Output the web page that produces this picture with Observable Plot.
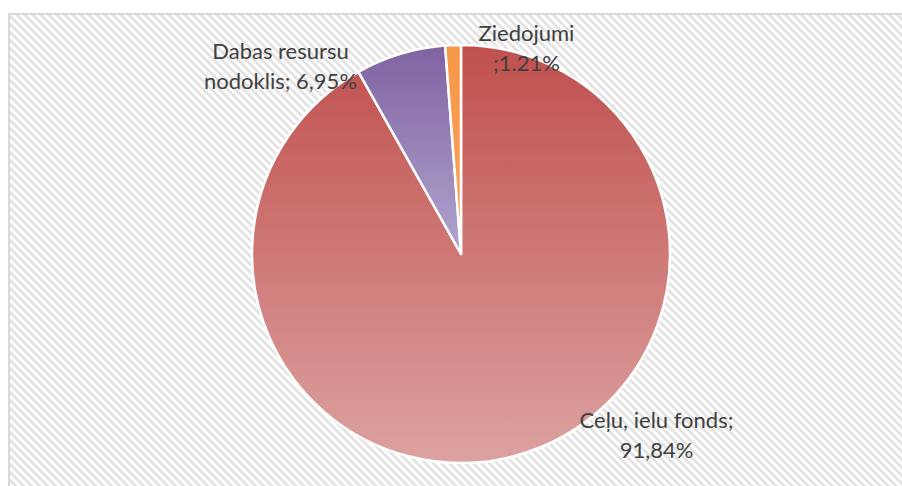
<!DOCTYPE html>
<html><head><meta charset="utf-8">
<script src="https://cdn.jsdelivr.net/npm/d3@7"></script>
<script src="https://cdn.jsdelivr.net/npm/@observablehq/plot@0.6"></script>
<style>body{margin:0;background:#fff;} #chart svg{display:block;}</style>
</head><body><div id="chart"></div>
<script>
// ---- data ----
const categories = ["Ceļu, ielu fonds", "Dabas resursu nodoklis", "Ziedojumi"];
const shares = [91.84, 6.95, 1.21];
const labelTexts = ["Ceļu, ielu fonds;\n91,84%", "Dabas resursu\nnodoklis; 6,95%", "Ziedojumi\n;1.21%"];

// ---- style / layout ----
const gradTop = ["#c0504d", "#7f63a1", "#f79646"];
const gradBottom = ["#dca2a0", "#b1a5cf", "#f8a462"];
// label anchor positions in pie-radius units (layout, best-fit like Excel)
const labelAnchor = [[0.933, -0.855], [-0.866, 0.91], [0.311, 0.995]];

const W = 902, H = 486, CX = 461, CY = 254, R = 209;

const table = categories.map((c, i) => ({category: c, share: shares[i], label: labelTexts[i], lx: labelAnchor[i][0], ly: labelAnchor[i][1]}));

function background(index, scales, values, dims) {
  const g = d3.create("svg:g");
  const defs = g.append("defs");
  const P = 5.66;
  const p = defs.append("pattern").attr("id", "hatch").attr("patternUnits", "userSpaceOnUse")
    .attr("width", P).attr("height", P).attr("patternTransform", "rotate(-45)");
  p.append("rect").attr("width", P).attr("height", P).attr("fill", "#ffffff");
  p.append("rect").attr("width", P / 2).attr("height", P).attr("fill", "#e3e3e3");
  g.append("rect").attr("x", 9).attr("y", 14).attr("width", dims.width).attr("height", dims.height)
    .attr("fill", "url(#hatch)").attr("stroke", "#d9d9d9").attr("stroke-width", 2);
  return g.node();
}

function pie(index, scales) {
  const cx = scales.x(0), cy = scales.y(0), r = scales.x(1) - scales.x(0);
  const g = d3.create("svg:g");
  const defs = g.append("defs");
  gradTop.forEach((c, i) => {
    const lg = defs.append("linearGradient").attr("id", "grad" + i).attr("x1", 0).attr("y1", 0).attr("x2", 0).attr("y2", 1);
    lg.append("stop").attr("offset", "0%").attr("stop-color", c);
    lg.append("stop").attr("offset", "100%").attr("stop-color", gradBottom[i]);
  });
  const arcs = d3.pie().sort(null).value(d => d.share)(table);
  const arc = d3.arc().innerRadius(0).outerRadius(r);
  g.append("g").attr("transform", `translate(${cx},${cy})`)
    .selectAll("path").data(arcs).join("path")
    .attr("d", arc)
    .attr("fill", (d, i) => `url(#grad${i})`)
    .attr("stroke", "#ffffff").attr("stroke-width", 2.5).attr("stroke-linejoin", "round");
  return g.node();
}

const chart = Plot.plot({
  width: W, height: H,
  margin: 0,
  x: {domain: [-CX / R, (W - CX) / R], axis: null},
  y: {domain: [-(H - CY) / R, CY / R], axis: null},
  style: {background: "white"},
  marks: [
    background,
    pie,
    Plot.text(table, {x: "lx", y: "ly", text: "label", fontSize: 22, fontFamily: "Lato", fill: "#404040", lineHeight: 1.36})
  ]
});
document.getElementById("chart").append(chart);
</script>
</body></html>
